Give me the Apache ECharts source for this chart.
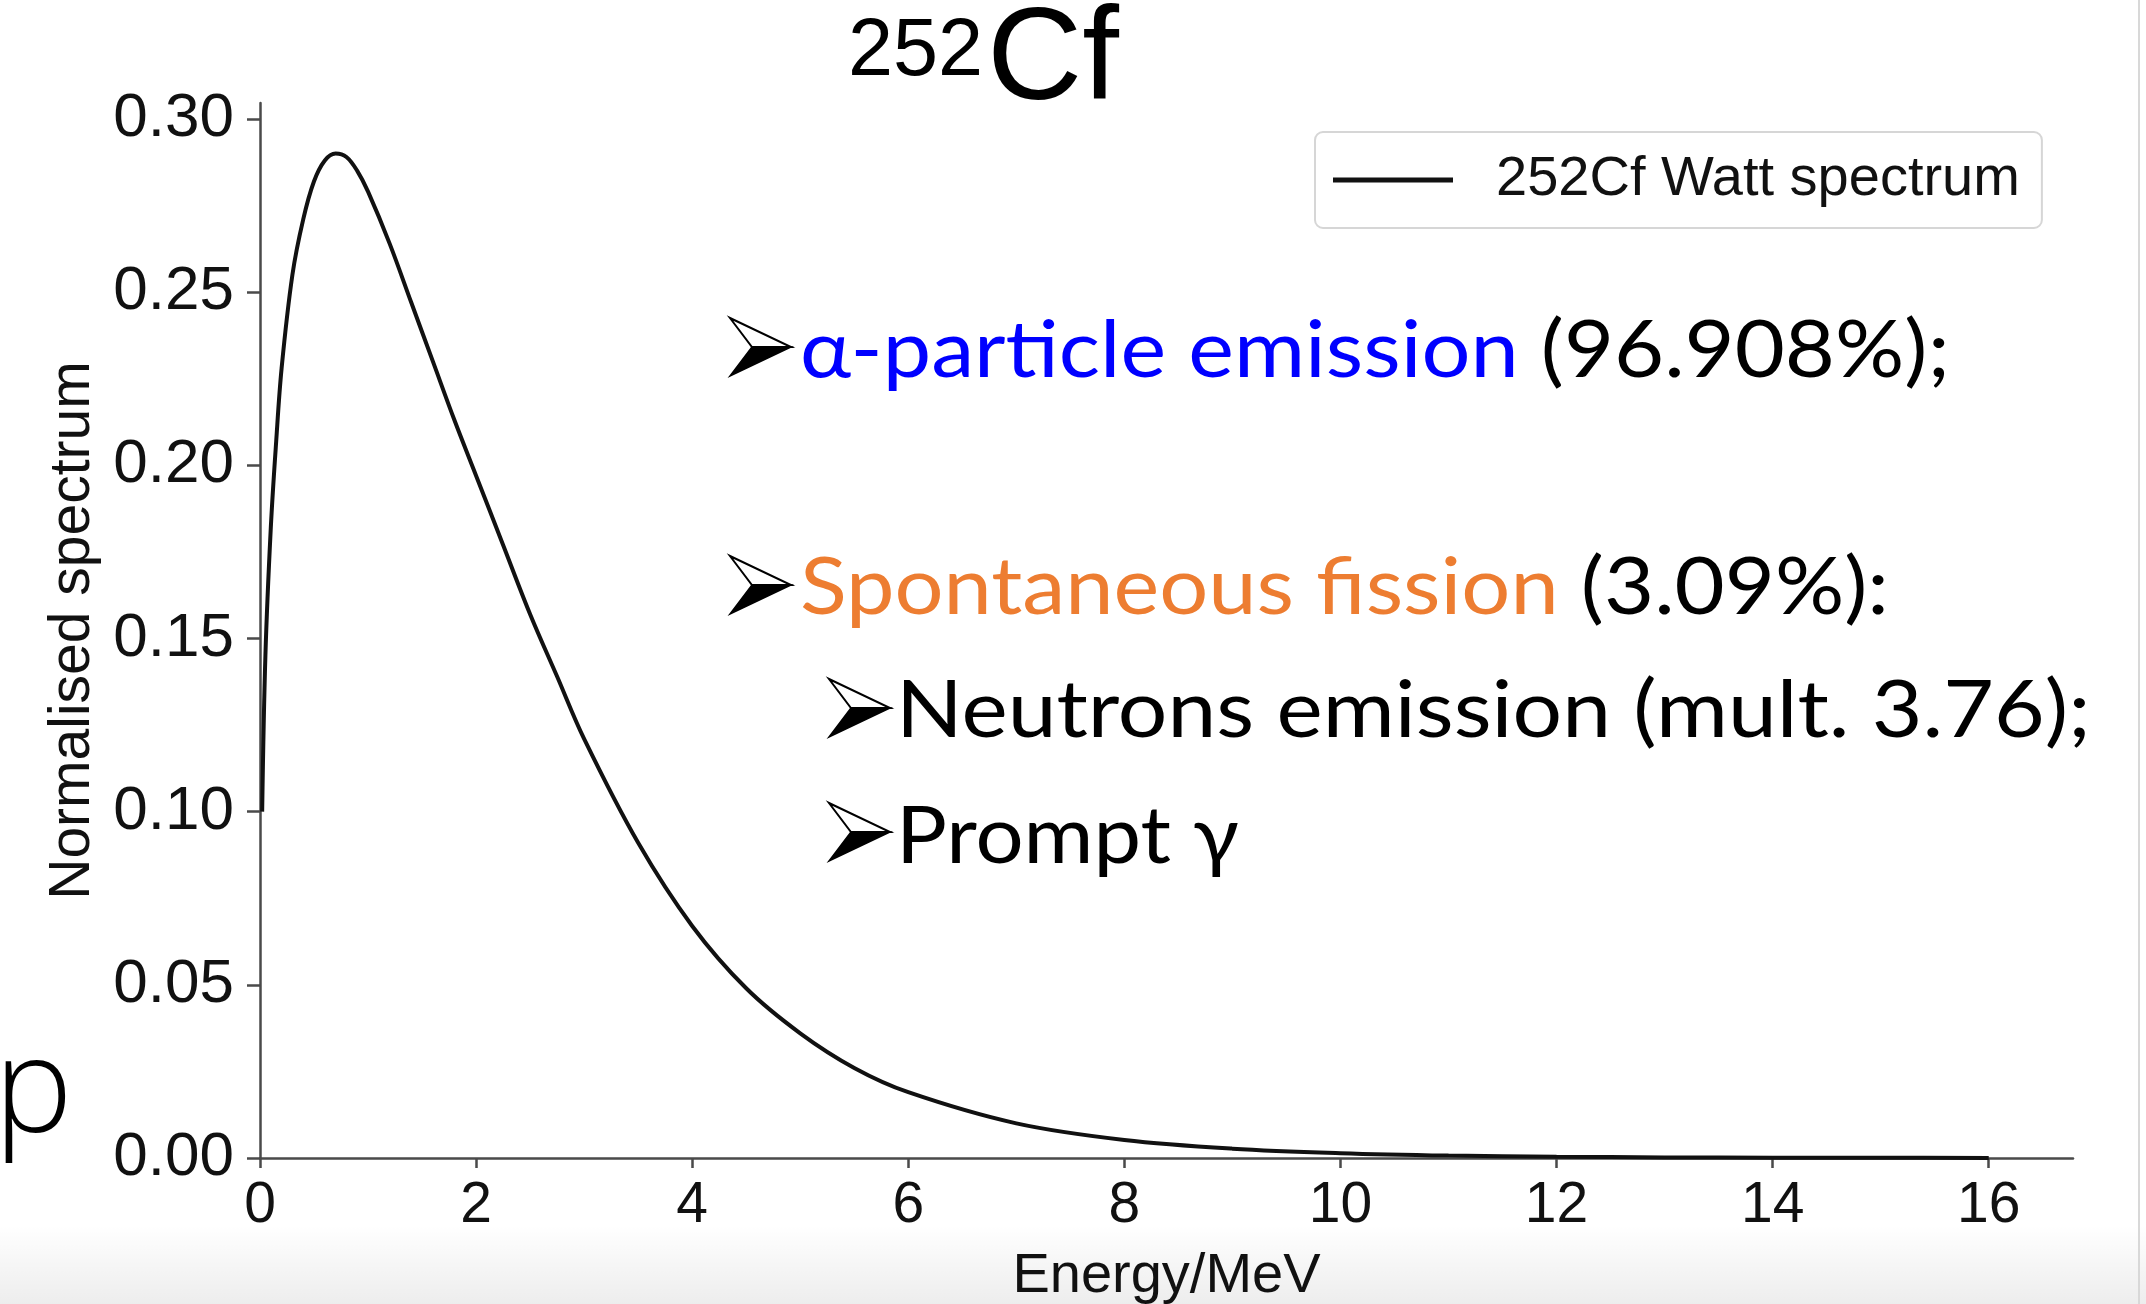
<!DOCTYPE html>
<html>
<head>
<meta charset="utf-8">
<script src="https://cdn.jsdelivr.net/npm/echarts@6/dist/echarts.min.js"></script>
<style>
html,body{margin:0;padding:0;background:#fff;}
#c{width:2146px;height:1304px;}
</style>
</head>
<body>
<div id="c"></div>
<script>
// ---- data ----
var energy = [0.02, 0.05, 0.1, 0.15, 0.2, 0.3, 0.4, 0.5, 0.6, 0.7, 0.8, 0.9, 1.0, 1.2, 1.4, 1.6, 1.8, 2.0, 2.25, 2.5, 2.75, 3.0, 3.5, 4.0, 4.5, 5.0, 5.5, 6.0, 7.0, 8.0, 9.0, 10, 11, 12, 13, 14, 15, 16];
var spectrum = [0.10, 0.145, 0.182, 0.207, 0.228, 0.255, 0.271, 0.282, 0.288, 0.290, 0.289, 0.285, 0.279, 0.264, 0.247, 0.230, 0.213, 0.197, 0.177, 0.157, 0.139, 0.121, 0.091, 0.067, 0.049, 0.036, 0.026, 0.019, 0.010, 0.0052, 0.0027, 0.0014, 0.0007, 0.00036, 0.00018, 0.00009, 0.00005, 0.00002];
var xTicks = [0, 2, 4, 6, 8, 10, 12, 14, 16];
var yTicks = [0, 0.05, 0.10, 0.15, 0.20, 0.25, 0.30];
var seriesName = '252Cf Watt spectrum';
var titleSup = '252';
var titleMain = 'Cf';
var bullet1 = ['α-particle emission', ' (96.908%);'];
var bullet2 = ['Spontaneous fission', ' (3.09%):'];
var bullet3 = 'Neutrons emission (mult. 3.76);';
var bullet4 = 'Prompt γ';

var pts = energy.map(function (e, i) { return [e, spectrum[i]]; });

var ctx = document.createElement('canvas').getContext('2d');
function w(txt, font) { ctx.font = font; return ctx.measureText(txt).width; }
var slideFont = '79px Lato';

// 3-D arrowhead bullet (upper half white outlined, lower half black)
function arrow(x, top, aw, ah) {
  var midY = top + ah / 2, notchX = x + aw * 0.36, tipX = x + aw;
  return [
    { type: 'polygon', z: 10, shape: { points: [[x, top], [tipX, midY], [notchX, midY]] },
      style: { fill: '#fff', stroke: '#000', lineWidth: 2 } },
    { type: 'polygon', z: 10, shape: { points: [[notchX, midY], [tipX, midY], [x, top + ah]] },
      style: { fill: '#000', stroke: '#000', lineWidth: 1.5 } }
  ];
}
function slideLine(x, midY, txtPlain, rich, richText, targetW) {
  var s = targetW / w(txtPlain, slideFont);
  return [
    { type: 'text', x: x, y: midY, scaleX: s, z: 10,
      style: { text: richText, font: slideFont, fill: '#000', verticalAlign: 'middle', rich: rich } }
  ];
}

var chart = echarts.init(document.getElementById('c'), null, { renderer: 'canvas' });
var axisCol = '#4a4a4a';
var graphics = [
  { type: 'rect', z: -5, shape: { x: 0, y: 1225, width: 2146, height: 79 },
    style: { fill: new echarts.graphic.LinearGradient(0, 0, 0, 1, [{ offset: 0, color: 'rgba(0,0,0,0)' }, { offset: 1, color: 'rgba(0,0,0,0.07)' }]) } },
  { type: 'line', z: 5, shape: { x1: 2139, y1: 0, x2: 2139, y2: 1304 }, style: { stroke: '#d8d8d8', lineWidth: 2 } },
  { type: 'text', x: 848, y: 53, z: 10, style: { text: titleSup, font: '81px "Liberation Sans"', fill: '#000', verticalAlign: 'middle' } },
  { type: 'text', x: 987, y: 63, z: 10, style: { text: titleMain, font: '132px "Liberation Sans"', fill: '#000', verticalAlign: 'middle' } },
  { type: 'text', x: -6, y: 1094, z: 10, style: { text: 'p', font: '300 132px "Open Sans"', fill: '#000', verticalAlign: 'middle' } }
];
graphics = graphics.concat(
  arrow(730, 318, 61, 58),
  arrow(730, 556, 61, 58),
  arrow(829, 679, 61, 58),
  arrow(829, 803, 61, 58),
  slideLine(800, 352, bullet1.join(''), { b: { fill: '#0000ff', font: slideFont }, k: { fill: '#000', font: slideFont } }, '{b|' + bullet1[0] + '}{k|' + bullet1[1] + '}', 1150),
  slideLine(800, 589, bullet2.join(''), { o: { fill: '#ed7d31', font: slideFont }, k: { fill: '#000', font: slideFont } }, '{o|' + bullet2[0] + '}{k|' + bullet2[1] + '}', 1089),
  slideLine(896, 712, bullet3, {}, bullet3, 1195),
  slideLine(896, 838, bullet4, {}, bullet4, 343)
);

chart.setOption({
  animation: false,
  backgroundColor: '#fff',
  textStyle: { fontFamily: '"Liberation Sans", Arial, sans-serif' },
  grid: { left: 260, right: 73, top: 103, bottom: 146, containLabel: false, outerBoundsMode: 'none' },
  legend: {
    show: true, left: 1315, top: 132,
    data: [{ name: seriesName, icon: 'rect' }],
    itemWidth: 120, itemHeight: 5,
    padding: [20, 22, 20, 18],
    backgroundColor: '#fff', borderColor: '#d6d6d6', borderWidth: 2, borderRadius: 8,
    textStyle: { fontSize: 56, color: '#111', padding: [0, 0, 0, 38], fontFamily: '"Liberation Sans"' }
  },
  xAxis: {
    type: 'value', min: 0, max: 16.78,
    name: 'Energy/MeV', nameLocation: 'middle', nameGap: 91,
    nameTextStyle: { fontSize: 56, color: '#111' },
    axisLine: { show: true, lineStyle: { color: axisCol, width: 2.5 } },
    axisTick: { show: true, length: 10, lineStyle: { color: axisCol, width: 2.5 }, customValues: xTicks },
    axisLabel: { fontSize: 57, color: '#111', margin: 20, customValues: xTicks, formatter: function (v) { return String(v); } },
    splitLine: { show: false }
  },
  yAxis: {
    type: 'value', min: 0, max: 0.3046,
    name: 'Normalised spectrum', nameLocation: 'middle', nameGap: 158, nameRotate: 90,
    nameTextStyle: { fontSize: 57, color: '#111' },
    axisLine: { show: true, lineStyle: { color: axisCol, width: 2.5 } },
    axisTick: { show: true, length: 13, lineStyle: { color: axisCol, width: 2.5 }, customValues: yTicks },
    axisLabel: { fontSize: 62, color: '#111', margin: 26, customValues: yTicks, formatter: function (v) { return v.toFixed(2); } },
    splitLine: { show: false }
  },
  series: [{
    name: seriesName, type: 'line', data: pts, showSymbol: false, symbol: 'none', smooth: 0.35,
    lineStyle: { color: '#111', width: 4 }, itemStyle: { color: '#111' }, z: 3
  }],
  graphic: graphics
});
</script>
</body>
</html>
